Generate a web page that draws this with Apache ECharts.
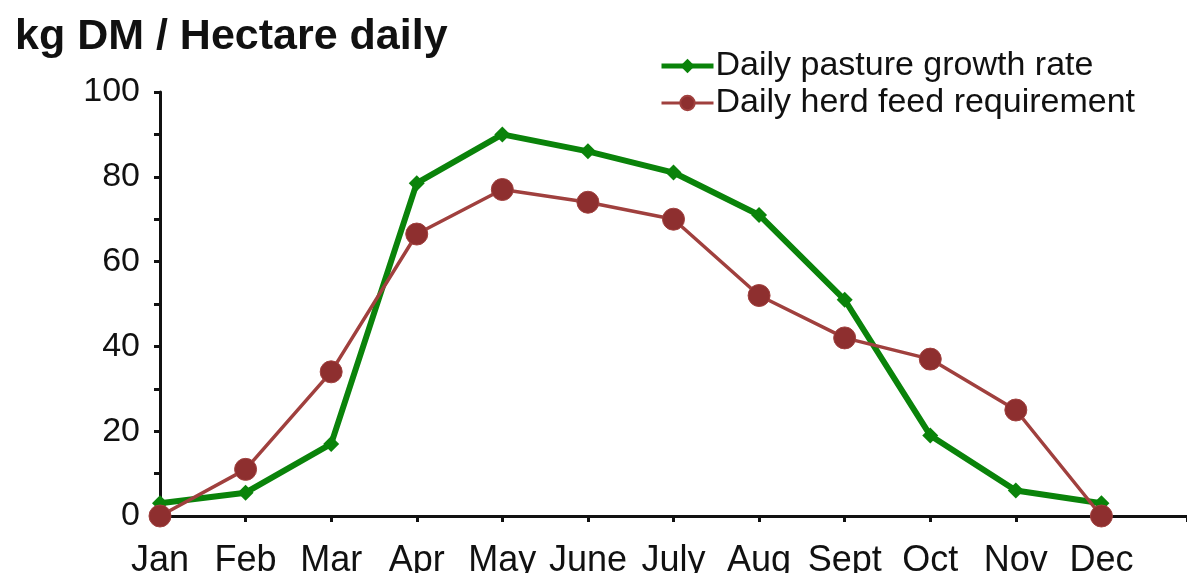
<!DOCTYPE html>
<html>
<head>
<meta charset="utf-8">
<script src="https://cdn.jsdelivr.net/npm/echarts@6/dist/echarts.min.js"></script>
<style>
  html, body { margin: 0; padding: 0; background: #fff; }
  #myChart { width: 1187px; height: 573px; }
</style>
</head>
<body>
<div id="myChart"></div>
<script>
// months along the x axis (last slot is an empty one, the axis runs on past Dec)
const months = ["Jan", "Feb", "Mar", "Apr", "May", "June", "July", "Aug", "Sept", "Oct", "Nov", "Dec"];
const growthRate = [3, 5.5, 17, 78.5, 90, 86, 81, 71, 51, 19, 6, 3];
const feedRequirement = [0, 11, 34, 66.5, 77, 74, 70, 52, 42, 37, 25, 0];
const yTicks = [0, 20, 40, 60, 80, 100];

const green = "#0a830a",
  red = "#a0403e";

const myChart = echarts.init(document.getElementById("myChart"));

const options = {
  animation: false,
  textStyle: { fontFamily: "Liberation Sans, Arial, sans-serif" },
  title: {
    text: "kg DM / Hectare daily",
    left: 10,
    top: 11,
    textStyle: { fontSize: 43, fontWeight: "bold", color: "#111" }
  },
  legend: {
    orient: "vertical",
    left: 654,
    top: 44,
    itemWidth: 52,
    itemHeight: 18,
    itemGap: 3,
    textStyle: { fontSize: 34, color: "#111", padding: [0, 0, 0, -3] },
    data: [
      { name: "Daily pasture growth rate", lineStyle: { width: 5 } },
      { name: "Daily herd feed requirement", lineStyle: { width: 3 } }
    ]
  },
  grid: {
    left: 160,
    right: 0,
    top: 92,
    bottom: 57,
    outerBoundsMode: "none"
  },
  xAxis: {
    type: "category",
    boundaryGap: false,
    data: months.concat([""]),
    axisLine: { lineStyle: { color: "#111", width: 3 } },
    axisTick: { show: true, length: 6, lineStyle: { color: "#111", width: 3 } },
    axisLabel: { fontSize: 36, color: "#111", margin: 27, interval: 0 },
    splitLine: { show: false }
  },
  yAxis: {
    type: "value",
    min: 0,
    max: 100,
    interval: 10,
    axisLine: { show: true, lineStyle: { color: "#111", width: 3 } },
    axisTick: { show: true, length: 6, lineStyle: { color: "#111", width: 3 } },
    axisLabel: {
      fontSize: 34,
      color: "#111",
      margin: 20,
      formatter: function (v) {
        return yTicks.indexOf(v) >= 0 ? v : "";
      }
    },
    splitLine: { show: false }
  },
  series: [
    {
      name: "Daily pasture growth rate",
      type: "line",
      data: growthRate,
      symbol: "diamond",
      symbolSize: 16,
      itemStyle: { color: green },
      lineStyle: { color: green, width: 6 },
      z: 2
    },
    {
      name: "Daily herd feed requirement",
      type: "line",
      data: feedRequirement,
      symbol: "circle",
      symbolSize: 22,
      itemStyle: { color: "#8e2f2f", borderColor: red, borderWidth: 1 },
      lineStyle: { color: red, width: 3.5 },
      z: 3
    }
  ]
};

myChart.setOption(options);
</script>
</body>
</html>
